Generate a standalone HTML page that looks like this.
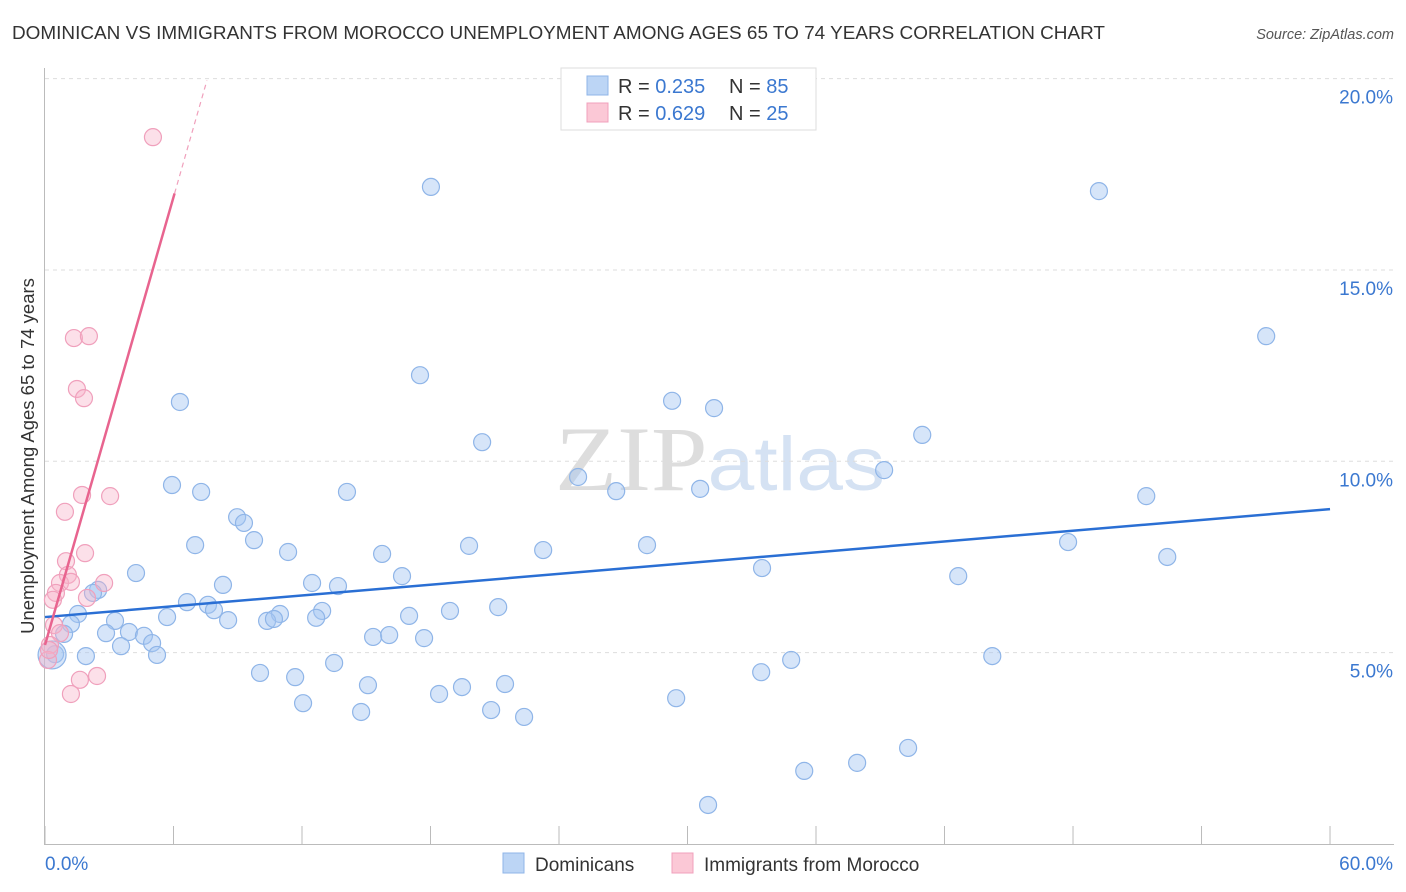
<!DOCTYPE html>
<html><head><meta charset="utf-8"><style>
html,body{margin:0;padding:0;background:#fff;}
svg{display:block;font-family:"Liberation Sans",sans-serif;}
</style></head><body>
<svg id="chart" width="1406" height="892">
<text x="12" y="39" font-size="18" fill="#333" textLength="1093" lengthAdjust="spacingAndGlyphs">DOMINICAN VS IMMIGRANTS FROM MOROCCO UNEMPLOYMENT AMONG AGES 65 TO 74 YEARS CORRELATION CHART</text>
<text x="1394" y="39" font-size="14.5" fill="#555" font-style="italic" text-anchor="end">Source: ZipAtlas.com</text>
<text x="555" y="490" font-size="92" fill="#ddd" textLength="330" lengthAdjust="spacingAndGlyphs" font-family="Liberation Serif,serif">ZIP<tspan fill="#d5e2f3" font-family="Liberation Sans,sans-serif" font-size="76">atlas</tspan></text>
<g id="grid"></g>
<g id="axes"></g>
<g id="pts"></g>
<g id="trends"></g>
<text transform="translate(34,456) rotate(-90)" font-size="18.5" fill="#333" text-anchor="middle">Unemployment Among Ages 65 to 74 years</text>
<g>
<rect x="561" y="68" width="255" height="62" fill="#fff" stroke="#ddd"/>
<rect x="587" y="76" width="21" height="19" fill="#bcd5f5" stroke="#8fb5e8"/>
<text x="618" y="93" font-size="20" fill="#333">R = <tspan fill="#3b78d0">0.235</tspan></text>
<text x="729" y="93" font-size="20" fill="#333">N = <tspan fill="#3b78d0">85</tspan></text>
<rect x="587" y="103" width="21" height="19" fill="#fbc8d6" stroke="#f0a0bc"/>
<text x="618" y="120" font-size="20" fill="#333">R = <tspan fill="#3b78d0">0.629</tspan></text>
<text x="729" y="120" font-size="20" fill="#333">N = <tspan fill="#3b78d0">25</tspan></text>
</g>
<g>
<rect x="503" y="853" width="21" height="20" fill="#bcd5f5" stroke="#8fb5e8"/>
<text x="535" y="871" font-size="19" fill="#333">Dominicans</text>
<rect x="672" y="853" width="21" height="20" fill="#fbc8d6" stroke="#f0a0bc"/>
<text x="704" y="871" font-size="19" fill="#333">Immigrants from Morocco</text>
</g>
</svg>
<script>
const blueX=[18.02,49.21,57.02,17.51,6.30,29.28,31.24,40.96,20.41,39.18,24.89,5.93,7.29,26.67,30.59,14.10,51.42,8.97,9.29,7.01,9.76,19.80,23.26,28.11,47.77,11.35,15.74,52.40,33.48,4.25,16.67,42.64,8.31,12.47,13.68,2.48,2.24,6.63,7.61,7.89,21.16,1.54,5.70,3.27,1.21,8.55,10.97,12.94,18.91,17.00,10.37,10.69,12.66,2.85,3.92,4.62,5.00,3.55,0.89,15.32,16.07,17.70,5.23,1.91,0.47,0.33,13.50,34.84,44.23,10.04,11.68,33.44,15.08,19.47,21.48,18.40,29.47,12.05,14.76,20.83,22.37,40.30,37.92,35.45,30.96];
const blueY=[17.17,17.06,13.27,12.25,11.55,11.58,11.39,10.69,10.50,9.77,9.59,9.38,9.20,9.22,9.28,9.20,9.09,8.54,8.39,7.81,7.94,7.79,7.68,7.81,7.89,7.63,7.58,7.50,7.21,7.08,7.00,7.00,6.77,6.82,6.74,6.64,6.56,6.32,6.25,6.11,6.19,6.01,5.93,5.83,5.75,5.85,6.01,6.09,6.09,5.96,5.83,5.88,5.91,5.51,5.54,5.44,5.25,5.17,5.49,5.41,5.46,5.38,4.94,4.91,4.96,4.94,4.73,4.81,4.91,4.47,4.36,4.49,4.15,4.10,4.18,3.92,3.81,3.68,3.45,3.50,3.32,2.51,2.12,1.91,1.02];
const pinkX=[5.04,1.35,2.05,1.49,1.82,1.73,3.04,0.93,1.87,0.98,1.07,2.76,0.70,1.21,0.51,1.96,0.37,0.42,0.70,0.23,0.14,1.63,2.43,1.21,0.19];
const pinkY=[18.47,13.22,13.27,11.89,11.65,9.12,9.09,8.68,7.60,7.39,7.03,6.82,6.82,6.85,6.56,6.43,6.38,5.72,5.51,5.20,4.81,4.29,4.39,3.92,5.07];
const yTicks=[5,10,15,20];
const xTickVals=[0,6,12,18,24,30,36,42,48,54,60];
const blueTrend=[0,5.93,60,8.75];
const pinkTrend=[0,5.2,6.05,17.0,7.56,19.95];
const X=v=>45+v*21.417, Y=v=>844-v*38.27;
const NS="http://www.w3.org/2000/svg";
function mk(parent,tag,attrs){const e=document.createElementNS(NS,tag);for(const k in attrs)e.setAttribute(k,attrs[k]);document.getElementById(parent).appendChild(e);return e;}
yTicks.forEach(t=>{
 const l=mk('grid','line',{x1:45,x2:1394,y1:Y(t),y2:Y(t),stroke:'#ddd','stroke-dasharray':'4,4'});
 
 
 const tx=mk('axes','text',{x:1393,y:Y(t)+25,'font-size':19,fill:'#3b78d0','text-anchor':'end'});
 tx.textContent=t.toFixed(1)+'%';
 
 
});
const ax=mk('axes','line',{x1:45,x2:1394,y1:844.5,y2:844.5,stroke:'#bbb'});


const ay=mk('axes','line',{x1:44.5,x2:44.5,y1:68,y2:845,stroke:'#bbb'});


xTickVals.forEach(t=>{
 const l=mk('axes','line',{x1:X(t),x2:X(t),y1:826,y2:845,stroke:'#bbb'});
 
 
});
const xl0=mk('axes','text',{x:45,y:870,'font-size':19,fill:'#3b78d0'});xl0.textContent='0.0%';


const xl1=mk('axes','text',{x:1393,y:870,'font-size':19,fill:'#3b78d0','text-anchor':'end'});xl1.textContent='60.0%';


blueX.forEach((v,i)=>{
 const c=mk('pts','circle',{cx:X(v),cy:Y(blueY[i]),r:(i==65?14:8.5),fill:'rgba(165,198,242,0.45)',stroke:'#8fb5e8','stroke-width':1.2});
 
 
});
pinkX.forEach((v,i)=>{
 const c=mk('pts','circle',{cx:X(v),cy:Y(pinkY[i]),r:8.5,fill:'rgba(248,178,200,0.4)',stroke:'#f0a0bc','stroke-width':1.2});
 
 
});
const bl=mk('trends','line',{x1:X(blueTrend[0]),y1:Y(blueTrend[1]),x2:X(blueTrend[2]),y2:Y(blueTrend[3]),stroke:'#2a6fd4','stroke-width':2.5});


const pl=mk('trends','line',{x1:X(pinkTrend[0]),y1:Y(pinkTrend[1]),x2:X(pinkTrend[2]),y2:Y(pinkTrend[3]),stroke:'#e8648f','stroke-width':2.5});


const pd=mk('trends','line',{x1:X(pinkTrend[2]),y1:Y(pinkTrend[3]),x2:X(pinkTrend[4]),y2:Y(pinkTrend[5]),stroke:'#f0a0bc','stroke-width':1.2,'stroke-dasharray':'5,4'});


</script>
</body></html>
